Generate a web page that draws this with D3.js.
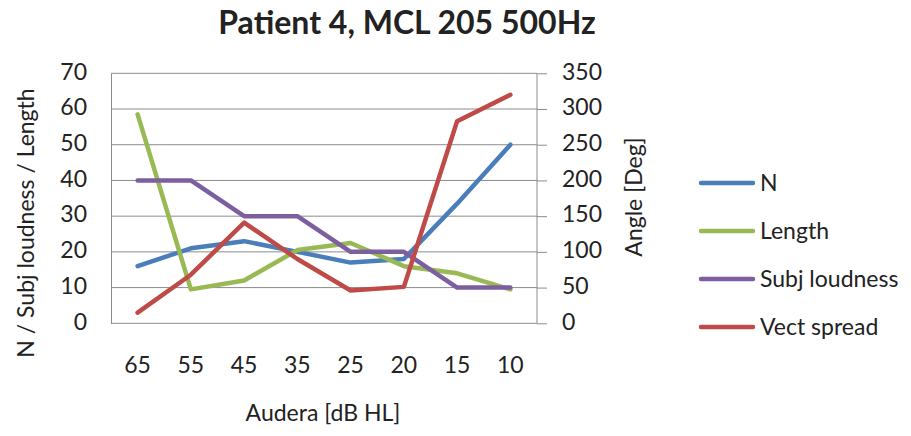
<!DOCTYPE html>
<html>
<head>
<meta charset="utf-8">
<script src="https://cdn.jsdelivr.net/npm/d3@7"></script>
<style>
  body { margin: 0; background: #fff; }
  svg { display: block; }
  text { font-family: Lato, "Open Sans", sans-serif; fill: #222; }
</style>
</head>
<body>
<svg id="chart" width="911" height="436"></svg>
<script>
// Audera levels (dB HL) along the x axis
const categories = ["65", "55", "45", "35", "25", "20", "15", "10"];

// Primary axis series
const nValues = [16, 21, 23, 20, 17, 18, 33.5, 50];
const lengthValues = [58.5, 9.5, 12, 20.5, 22.5, 16, 14, 9.5];
const subjLoudnessValues = [40, 40, 30, 30, 20, 20, 10, 10];

// Secondary axis series (angle in degrees)
const vectSpreadValues = [15, 68, 141, 90, 46, 51, 283, 320];

const leftTicks = [0, 10, 20, 30, 40, 50, 60, 70];
const rightTicks = [0, 50, 100, 150, 200, 250, 300, 350];

const series = [
  { name: "N", values: nValues, axis: "left", color: "#4a7ebb" },
  { name: "Length", values: lengthValues, axis: "left", color: "#98b954" },
  { name: "Subj loudness", values: subjLoudnessValues, axis: "left", color: "#7d5fa0" },
  { name: "Vect spread", values: vectSpreadValues, axis: "right", color: "#be4b48" }
];

const svg = d3.select("#chart");
const plot = { left: 111, right: 537, top: 73.3, bottom: 323.3 };
const fontSize = 23;

const x = d3.scaleBand().domain(categories).range([plot.left, plot.right]);
const yLeft = d3.scaleLinear().domain([0, 70]).range([plot.bottom, plot.top]);
const yRight = d3.scaleLinear().domain([0, 350]).range([plot.bottom, plot.top]);
const gridColor = "#8c8c8c";

// Horizontal gridlines
svg.append("g")
  .selectAll("line")
  .data(leftTicks.filter(t => t > 0))
  .join("line")
  .attr("x1", plot.left).attr("x2", plot.right)
  .attr("y1", d => yLeft(d)).attr("y2", d => yLeft(d))
  .attr("stroke", gridColor).attr("stroke-width", 1);

// Left axis
const leftAxis = svg.append("g")
  .attr("transform", `translate(${plot.left},0)`)
  .call(d3.axisLeft(yLeft).tickValues(leftTicks).tickSize(0).tickPadding(24));
leftAxis.select(".domain").attr("stroke", gridColor);
leftAxis.selectAll("text").attr("font-size", fontSize).attr("font-family", "Lato").attr("fill", "#222").attr("dy", "0.25em");

// Right axis
const rightAxis = svg.append("g")
  .attr("transform", `translate(${plot.right},0)`)
  .call(d3.axisRight(yRight).tickValues(rightTicks).tickSize(10).tickPadding(15));
rightAxis.select(".domain").attr("stroke", gridColor).attr("d", `M0,${plot.top}V${plot.bottom}`);
rightAxis.selectAll(".tick line").attr("stroke", gridColor);
rightAxis.selectAll("text").attr("font-size", fontSize).attr("font-family", "Lato").attr("fill", "#222").attr("dy", "0.25em");

// Bottom axis
const bottomAxis = svg.append("g")
  .attr("transform", `translate(0,${plot.bottom})`)
  .call(d3.axisBottom(x).tickSize(0).tickPadding(33));
bottomAxis.select(".domain").attr("stroke", gridColor).attr("d", `M${plot.left},0H${plot.right}`);
bottomAxis.selectAll("text").attr("font-size", fontSize).attr("font-family", "Lato").attr("fill", "#222");

// Series lines
const cx = d => x(d) + x.bandwidth() / 2;
series.forEach(s => {
  const y = s.axis === "left" ? yLeft : yRight;
  const line = d3.line().x((v, i) => cx(categories[i])).y(v => y(v));
  svg.append("path")
    .datum(s.values)
    .attr("d", line)
    .attr("fill", "none")
    .attr("stroke", s.color)
    .attr("stroke-width", 4.5)
    .attr("stroke-linejoin", "round")
    .attr("stroke-linecap", "round");
});

// Title
svg.append("text")
  .attr("x", 407).attr("y", 34)
  .attr("text-anchor", "middle")
  .attr("font-size", 32).attr("font-weight", "bold")
  .attr("fill", "#000")
  .text("Patient 4, MCL 205 500Hz");

// Axis titles
svg.append("text")
  .attr("transform", "translate(34,223) rotate(-90)")
  .attr("text-anchor", "middle")
  .attr("font-size", fontSize)
  .text("N / Subj loudness / Length");

svg.append("text")
  .attr("transform", "translate(642,197) rotate(-90)")
  .attr("text-anchor", "middle")
  .attr("font-size", fontSize)
  .text("Angle [Deg]");

svg.append("text")
  .attr("x", 323).attr("y", 421)
  .attr("text-anchor", "middle")
  .attr("font-size", fontSize)
  .text("Audera [dB HL]");

// Legend
const legend = svg.append("g").attr("transform", "translate(700,183)");
const rows = legend.selectAll("g").data(series).join("g")
  .attr("transform", (d, i) => `translate(0,${i * 48})`);
rows.append("line")
  .attr("x1", 1).attr("x2", 53).attr("y1", 0).attr("y2", 0)
  .attr("stroke", d => d.color).attr("stroke-width", 4.5)
  .attr("stroke-linecap", "round");
rows.append("text")
  .attr("x", 60).attr("y", 0).attr("dy", "0.35em")
  .attr("font-size", fontSize)
  .text(d => d.name);
</script>
</body>
</html>
